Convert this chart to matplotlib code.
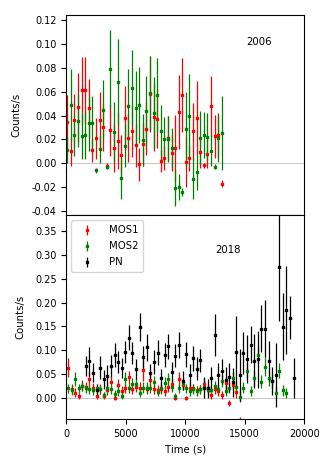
import numpy as np
import matplotlib
matplotlib.use("Agg")
import matplotlib.pyplot as plt

# ---------------- 2006 (top) ----------------
t06 = [84, 386, 688, 990, 1292, 1594, 1896, 2198, 2500, 2802, 3104, 3406, 3708, 4010,
       4312, 4614, 4916, 5218, 5520, 5822, 6124, 6426, 6728, 7030, 7332, 7634, 7936,
       8238, 8540, 8842, 9144, 9446, 9748, 10050, 10352, 10654, 10956, 11258, 11560,
       11862, 12164, 12466, 12768, 13070]
mos1_06 = [0.035, 0.010, 0.036, 0.047, 0.061, 0.061, 0.046, 0.011, 0.021, 0.036, 0.030,
           -0.002, 0.028, 0.013, 0.019, 0.007, 0.038, 0.021, 0.027, 0.015, -0.001, 0.016,
           0.029, 0.058, 0.0385, 0.037, 0.002, 0.0045, 0.021, 0.0086, 0.0126, 0.043, 0.057,
           0.001, 0.0045, 0.0267, 0.0377, 0.0092, -0.0017, 0.008, 0.048, 0.0225, 0.0234, -0.017]
mos1_06_err = [0.022, 0.012, 0.022, 0.029, 0.028, 0.028, 0.025, 0.010, 0.017, 0.024, 0.020,
               0.002, 0.022, 0.020, 0.024, 0.017, 0.027, 0.020, 0.022, 0.018, 0.014, 0.018,
               0.022, 0.032, 0.028, 0.024, 0.009, 0.010, 0.019, 0.015, 0.028, 0.031, 0.031,
               0.021, 0.011, 0.024, 0.031, 0.013, 0.002, 0.012, 0.025, 0.018, 0.019, 0.003]
mos2_06 = [0.011, 0.049, 0.0234, 0.0357, 0.023, 0.024, 0.0335, 0.034, -0.006, 0.012, 0.045,
           -0.003, 0.079, 0.026, 0.068, -0.0126, 0.0145, 0.0477, 0.063, 0.0466, 0.049, 0.0195,
           0.0438, 0.059, 0.042, 0.0575, 0.027, 0.020, 0.0205, 0.0127, -0.021, -0.0197, -0.024,
           0.0285, 0.040, -0.0128, -0.0074, 0.0216, 0.0237, 0.0224, 0.0104, -0.0028, 0.0212, 0.025]
mos2_06_err = [0.011, 0.030, 0.017, 0.022, 0.019, 0.020, 0.023, 0.022, 0.002, 0.012, 0.025,
               0.002, 0.033, 0.025, 0.036, 0.017, 0.018, 0.031, 0.032, 0.031, 0.032, 0.022,
               0.029, 0.031, 0.030, 0.031, 0.022, 0.019, 0.019, 0.017, 0.015, 0.011, 0.003,
               0.031, 0.035, 0.017, 0.015, 0.022, 0.019, 0.020, 0.013, 0.002, 0.020, 0.031]

# ---------------- 2018 (bottom) ----------------
t18 = [140, 441, 742, 1043, 1344, 1645, 1946, 2247, 2548, 2849, 3150, 3451, 3752, 4053,
       4354, 4655, 4956, 5257, 5558, 5859, 6160, 6461, 6762, 7063, 7364, 7665, 7966, 8267,
       8568, 8869, 9170, 9471, 9772, 10073, 10374, 10675, 10976, 11277, 11578, 11879, 12180,
       12481, 12782, 13083, 13384, 13685, 13986, 14287, 14588, 14889, 15190, 15491, 15792,
       16093, 16394, 16695, 16996, 17297, 17598, 17899, 18200, 18501, 18802, 19103]
mos1_18 = [0.063, 0.019, 0.011, 0.004, 0.026, 0.023, 0.040, 0.021, 0.004, 0.019, 0.005,
           0.017, 0.034, 0.000, 0.028, 0.015, 0.020, 0.043, 0.018, 0.024, 0.022, 0.058,
           0.018, 0.037, 0.019, 0.017, 0.019, 0.015, 0.024, 0.029, 0.000, 0.040, 0.027,
           0.000, 0.020, 0.020, 0.016, 0.018, 0.029, 0.020, 0.006, 0.018, 0.015, 0.006,
           0.032, -0.010, 0.028, 0.013, -0.052]
mos1_18_err = [0.020, 0.010, 0.009, 0.007, 0.011, 0.011, 0.014, 0.010, 0.007, 0.010, 0.007,
               0.010, 0.013, 0.005, 0.012, 0.010, 0.010, 0.014, 0.010, 0.011, 0.011, 0.022,
               0.010, 0.013, 0.010, 0.010, 0.010, 0.010, 0.011, 0.012, 0.005, 0.014, 0.011,
               0.005, 0.010, 0.010, 0.010, 0.010, 0.012, 0.010, 0.008, 0.010, 0.010, 0.008,
               0.013, 0.006, 0.012, 0.012, 0.013]
mos2_18 = [0.020, 0.017, 0.040, 0.020, 0.025, 0.020, 0.018, 0.016, 0.020, 0.018, 0.006,
           0.020, 0.018, 0.009, 0.015, 0.005, 0.040, 0.020, 0.029, 0.029, 0.011, 0.022,
           0.022, 0.021, 0.034, 0.013, 0.022, 0.032, 0.039, 0.024, 0.004, 0.022, 0.031,
           0.020, 0.015, 0.019, 0.015, 0.018, 0.024, 0.017, 0.017, 0.025, 0.019, 0.036,
           0.015, 0.022, 0.041, 0.024, 0.003, 0.022, 0.057, 0.015, 0.041, 0.091, 0.034,
           0.066, 0.041, 0.036, 0.011, 0.057, 0.016, 0.010]
mos2_18_err = [0.010, 0.010, 0.014, 0.010, 0.011, 0.010, 0.010, 0.010, 0.010, 0.010, 0.007,
               0.010, 0.010, 0.008, 0.010, 0.007, 0.014, 0.010, 0.012, 0.012, 0.009, 0.011,
               0.011, 0.011, 0.013, 0.009, 0.011, 0.013, 0.014, 0.011, 0.007, 0.011, 0.012,
               0.010, 0.010, 0.010, 0.010, 0.010, 0.011, 0.010, 0.010, 0.011, 0.010, 0.013,
               0.010, 0.011, 0.014, 0.011, 0.012, 0.011, 0.016, 0.010, 0.015, 0.018, 0.014,
               0.020, 0.015, 0.014, 0.012, 0.016, 0.012, 0.010]
pn_18 = [0.067, 0.077, 0.053, 0.017, 0.0635, 0.039, 0.047, 0.067, 0.091, 0.0754, 0.062,
         0.096, 0.126, 0.095, 0.060, 0.149, 0.085, 0.106, 0.052, 0.076, 0.095, 0.041, 0.091,
         0.108, 0.055, 0.089, 0.111, 0.036, 0.092, 0.048, 0.083, 0.061, 0.079, 0.022, 0.020,
         0.041, 0.133, 0.048, 0.056, 0.038, 0.043, 0.033, 0.096, 0.048, 0.094, 0.082, 0.112,
         0.077, 0.081, 0.145, 0.145, 0.078, 0.036, 0.048, 0.274, 0.149, 0.184, 0.168, 0.042]
pn_18_err = [0.020, 0.030, 0.020, 0.012, 0.024, 0.020, 0.022, 0.023, 0.025, 0.024, 0.021,
             0.023, 0.026, 0.023, 0.021, 0.030, 0.024, 0.028, 0.019, 0.025, 0.026, 0.019,
             0.025, 0.026, 0.021, 0.024, 0.028, 0.020, 0.026, 0.023, 0.026, 0.024, 0.024,
             0.021, 0.019, 0.024, 0.044, 0.026, 0.026, 0.028, 0.030, 0.030, 0.075, 0.054,
             0.044, 0.050, 0.038, 0.057, 0.060, 0.049, 0.060, 0.042, 0.030, 0.067, 0.113,
             0.070, 0.092, 0.045, 0.042]
pn_start = 5

fs = 7
plt.rcParams['font.family'] = ['DejaVu Sans']
plt.rcParams['font.size'] = fs

fig = plt.figure(figsize=(3.29, 4.66), dpi=100)
L, W = 66.3 / 329, (304.3 - 66.3) / 329
ax1 = fig.add_axes([L, 1 - 215 / 466, W, (215 - 15) / 466])
ax2 = fig.add_axes([L, 1 - 419 / 466, W, (419 - 215) / 466], sharex=ax1)

kw = dict(fmt='s', ms=2.0, elinewidth=0.9, capsize=0, lw=0)

ax1.axhline(0, color='#bbbbbb', lw=0.6, zorder=0)
ax1.errorbar(t06, mos1_06, yerr=mos1_06_err, color='red', **kw)
ax1.errorbar(t06, mos2_06, yerr=mos2_06_err, color='green', **kw)
ax1.set_ylim(-0.0433, 0.1242)
ax1.set_yticks(np.arange(-0.04, 0.121, 0.02))
ax1.yaxis.set_major_formatter(matplotlib.ticker.FormatStrFormatter('%.2f'))
ax1.set_ylabel('Counts/s', fontsize=7.3, labelpad=7)
ax1.tick_params(axis='x', labelbottom=False, bottom=False)
ax1.tick_params(axis='y', labelsize=fs)
ax1.text(0.81, 0.865, '2006', transform=ax1.transAxes, ha='center', va='center', fontsize=7.3)

ax2.axhline(0, color='#bbbbbb', lw=0.6, zorder=0)
ax2.errorbar(t18[:len(mos1_18)], mos1_18, yerr=mos1_18_err, color='red', label='MOS1', **kw)
ax2.errorbar(t18[:len(mos2_18)], mos2_18, yerr=mos2_18_err, color='green', label='MOS2', **kw)
ax2.errorbar(t18[pn_start:pn_start + len(pn_18)], pn_18, yerr=pn_18_err, color='black', label='PN', **kw)
ax2.set_ylim(-0.044, 0.3835)
ax2.set_yticks(np.arange(0, 0.351, 0.05))
ax2.yaxis.set_major_formatter(matplotlib.ticker.FormatStrFormatter('%.2f'))
ax2.set_xlim(0, 20000)
ax2.set_xticks([0, 5000, 10000, 15000, 20000])
ax2.set_xlabel('Time (s)', fontsize=7.3)
ax2.set_ylabel('Counts/s', fontsize=7.3, labelpad=7)
ax2.tick_params(labelsize=fs)
ax2.text(0.68, 0.83, '2018', transform=ax2.transAxes, ha='center', va='center', fontsize=7.3)
ax2.legend(loc='upper left', fontsize=7.3, handletextpad=1.2, borderpad=0.5, labelspacing=0.6)

fig.align_ylabels([ax1, ax2])
fig.savefig('out.png', dpi=100)
